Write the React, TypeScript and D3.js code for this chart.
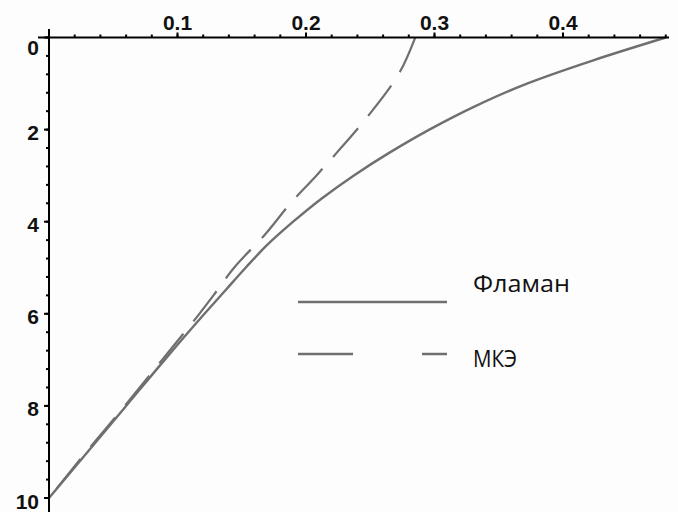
import React from "react";
import * as d3 from "d3";

const flamanDepth = [0, 0.5, 1, 1.5, 2, 2.5, 3, 3.5, 4, 4.5, 5, 5.5, 6, 7, 8, 9, 10];
const flamanValue = [0.48, 0.423, 0.372, 0.331, 0.296, 0.265, 0.237, 0.212, 0.19, 0.17, 0.153, 0.137, 0.121, 0.09, 0.06, 0.03, 0.0];

const mkeDepth = [0, 0.75, 1.75, 2.5, 3, 3.6, 4.25, 5, 5.6, 6, 7, 8, 9, 10];
const mkeValue = [0.285, 0.273, 0.247, 0.224, 0.208, 0.188, 0.169, 0.144, 0.128, 0.117, 0.088, 0.059, 0.029, 0.0];

const xTickLabels = [0.1, 0.2, 0.3, 0.4];
const yTickLabels = [0, 2, 4, 6, 8, 10];
const legendNames = ["Фламан", "МКЭ"];

const W = 678;
const H = 512;

export default function App() {
  const x = d3.scaleLinear().domain([0, 0.1]).range([49, 177.5]);
  const y = d3.scaleLinear().domain([0, 10]).range([37.5, 498]);

  const xMinor = d3.range(0, 0.481, 0.02);
  const yMinor = d3.range(0, 10.01, 0.4);

  const line = d3
    .line<[number, number]>()
    .x((d) => x(d[0]))
    .y((d) => y(d[1]))
    .curve(d3.curveMonotoneY);

  const flaman = line(flamanDepth.map((d, i) => [flamanValue[i], d] as [number, number])) || "";
  const mke = line(mkeDepth.map((d, i) => [mkeValue[i], d] as [number, number])) || "";

  const curveColor = "#6f6f6f";
  const axisY = y(0);
  const axisX = x(0);
  const labelFont = "Liberation Sans, Arial, sans-serif";

  return (
    <svg
      width={W}
      height={H}
      style={{ position: "absolute", left: 0, top: 0, background: "#ffffff" }}
    >
      <rect x={0} y={0} width={W} height={H} fill="#fdfdfd" />
      {/* curves */}
      <path d={flaman} fill="none" stroke={curveColor} strokeWidth={2.4} />
      <path d={mke} fill="none" stroke={curveColor} strokeWidth={2.2} strokeDasharray="38,16" />

      {/* x axis */}
      <line x1={38} x2={669} y1={axisY} y2={axisY} stroke="#000" strokeWidth={2} />
      {xMinor.map((v, i) => (
        <line key={"xm" + i} x1={x(v)} x2={x(v)} y1={axisY - 3} y2={axisY} stroke="#000" strokeWidth={2} />
      ))}
      {xTickLabels.map((v) => (
        <g key={"xl" + v}>
          <line x1={x(v)} x2={x(v)} y1={axisY - 5} y2={axisY} stroke="#000" strokeWidth={2} />
          <text
            x={x(v)}
            y={30}
            textAnchor="middle"
            fontFamily={labelFont}
            fontWeight="bold"
            fontSize={21}
            fill="#111"
          >
            {v}
          </text>
        </g>
      ))}

      {/* y axis */}
      <line x1={axisX} x2={axisX} y1={29} y2={512} stroke="#000" strokeWidth={2} />
      {yMinor.map((v, i) => (
        <line key={"ym" + i} x1={axisX - 3} x2={axisX} y1={y(v)} y2={y(v)} stroke="#000" strokeWidth={2} />
      ))}
      {yTickLabels.map((v) => (
        <g key={"yl" + v}>
          <line x1={axisX - 5} x2={axisX} y1={y(v)} y2={y(v)} stroke="#000" strokeWidth={2} />
          <text
            x={39}
            y={y(v) + (v === 0 ? 10 : 3)}
            textAnchor="end"
            dominantBaseline="central"
            fontFamily={labelFont}
            fontWeight="bold"
            fontSize={21}
            fill="#111"
          >
            {v}
          </text>
        </g>
      ))}

      {/* legend */}
      <line x1={298} x2={447} y1={302} y2={302} stroke={curveColor} strokeWidth={2.4} />
      <line x1={298} x2={447} y1={354} y2={354} stroke={curveColor} strokeWidth={2.4} strokeDasharray="55,69" />
      <text
        x={473}
        y={292}
        fontFamily="Open Sans, Noto Sans, sans-serif"
        fontSize={24}
        fill="#111"
        textLength={97}
        lengthAdjust="spacingAndGlyphs"
      >
        {legendNames[0]}
      </text>
      <text
        x={473}
        y={367}
        fontFamily="Open Sans, Noto Sans, sans-serif"
        fontSize={24}
        fill="#111"
        textLength={44}
        lengthAdjust="spacingAndGlyphs"
      >
        {legendNames[1]}
      </text>
    </svg>
  );
}
